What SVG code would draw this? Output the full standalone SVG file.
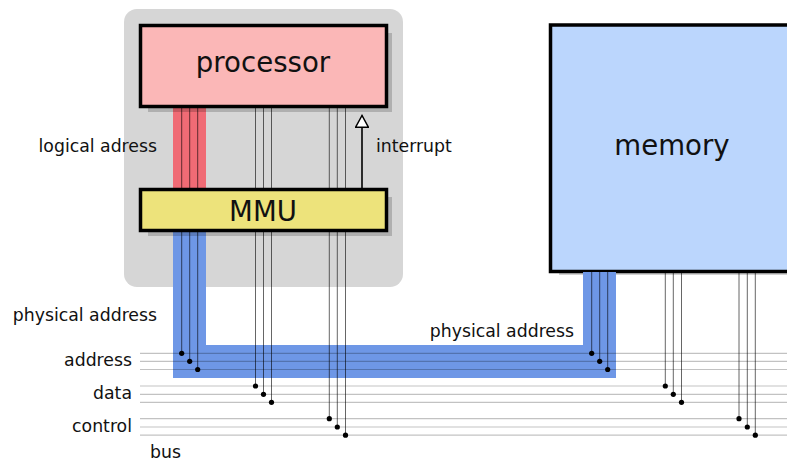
<svg xmlns="http://www.w3.org/2000/svg" width="787" height="463" viewBox="0 0 787 463">
  <style>
    .lbl { font-family: "DejaVu Sans", sans-serif; font-size: 17.3px; fill: #111; }
    .big { font-family: "DejaVu Sans", sans-serif; font-size: 27.6px; fill: #111; text-anchor: middle; }
    .box { stroke: #000; stroke-width: 3.5; }
    .shadow { fill: #000; fill-opacity: 0.18; }
    .wire { stroke: #000; stroke-opacity: 0.6; stroke-width: 1; fill: none; }
    .busline { stroke: #000; stroke-opacity: 0.24; stroke-width: 1.2; fill: none; }
    .dot { fill: #000; }
  </style>
  <defs>
    <marker id="hollow" viewBox="0 0 14 14" refX="12.5" refY="7" markerWidth="14" markerHeight="14" markerUnits="userSpaceOnUse" orient="auto">
      <path d="M12.5,7 L0.8,0.6 L0.8,13.4 Z" fill="#fff" stroke="#000" stroke-width="1.5" stroke-linejoin="miter"/>
    </marker>
  </defs>
  <rect width="787" height="463" fill="#fff"/>

  <!-- CPU package background -->
  <rect id="cpu-package" x="124" y="9" width="279" height="278" rx="13" fill="#d6d6d6"/>

  <!-- memory -->
  <g id="memory">
    <rect class="shadow" x="559" y="34" width="240" height="241"/>
    <rect class="box" x="550.5" y="25" width="260" height="246.5" fill="#bbd6fd"/>
    <text class="big" x="672" y="155">memory</text>
  </g>

  <!-- buses and wires -->
  <g id="connectors">
    <!-- logical address bundle -->
    <rect x="173" y="108" width="33" height="81" fill="#f06b75"/>
    <!-- physical address bundle -->
    <polygon points="173,231 206,231 206,345 583,345 583,272 616,272 616,378 173,378" fill="#6e97e6"/>

    <!-- system bus lines -->
    <g class="busline">
      <line x1="140" y1="353.3" x2="787" y2="353.3"/>
      <line x1="140" y1="361.3" x2="787" y2="361.3"/>
      <line x1="140" y1="369.5" x2="787" y2="369.5"/>
      <line x1="140" y1="386" x2="787" y2="386"/>
      <line x1="140" y1="394.3" x2="787" y2="394.3"/>
      <line x1="140" y1="402.3" x2="787" y2="402.3"/>
      <line x1="140" y1="418.7" x2="787" y2="418.7"/>
      <line x1="140" y1="427" x2="787" y2="427"/>
      <line x1="140" y1="435.2" x2="787" y2="435.2"/>
    </g>

    <!-- processor side wires -->
    <g class="wire">
      <line x1="181.7" y1="108" x2="181.7" y2="353.3"/>
      <line x1="189.7" y1="108" x2="189.7" y2="361.3"/>
      <line x1="197.7" y1="108" x2="197.7" y2="369.5"/>
      <line x1="255.5" y1="108" x2="255.5" y2="386"/>
      <line x1="263.5" y1="108" x2="263.5" y2="394.3"/>
      <line x1="271.5" y1="108" x2="271.5" y2="402.3"/>
      <line x1="329.3" y1="108" x2="329.3" y2="418.7"/>
      <line x1="337.3" y1="108" x2="337.3" y2="427"/>
      <line x1="345.5" y1="108" x2="345.5" y2="435.2"/>
    </g>

    <!-- memory side wires -->
    <g class="wire">
      <line x1="591.7" y1="272" x2="591.7" y2="353.3"/>
      <line x1="599.7" y1="272" x2="599.7" y2="361.3"/>
      <line x1="607.7" y1="272" x2="607.7" y2="369.5"/>
      <line x1="665.3" y1="272" x2="665.3" y2="386"/>
      <line x1="673.3" y1="272" x2="673.3" y2="394.3"/>
      <line x1="681.5" y1="272" x2="681.5" y2="402.3"/>
      <line x1="739" y1="272" x2="739" y2="418.7"/>
      <line x1="747.3" y1="272" x2="747.3" y2="427"/>
      <line x1="755.3" y1="272" x2="755.3" y2="435.2"/>
    </g>

    <!-- bus taps -->
    <g class="dot">
      <circle cx="181.7" cy="353.3" r="2.6"/>
      <circle cx="189.7" cy="361.3" r="2.6"/>
      <circle cx="197.7" cy="369.5" r="2.6"/>
      <circle cx="255.5" cy="386" r="2.6"/>
      <circle cx="263.5" cy="394.3" r="2.6"/>
      <circle cx="271.5" cy="402.3" r="2.6"/>
      <circle cx="329.3" cy="418.7" r="2.6"/>
      <circle cx="337.3" cy="427" r="2.6"/>
      <circle cx="345.5" cy="435.2" r="2.6"/>
      <circle cx="591.7" cy="353.3" r="2.6"/>
      <circle cx="599.7" cy="361.3" r="2.6"/>
      <circle cx="607.7" cy="369.5" r="2.6"/>
      <circle cx="665.3" cy="386" r="2.6"/>
      <circle cx="673.3" cy="394.3" r="2.6"/>
      <circle cx="681.5" cy="402.3" r="2.6"/>
      <circle cx="739" cy="418.7" r="2.6"/>
      <circle cx="747.3" cy="427" r="2.6"/>
      <circle cx="755.3" cy="435.2" r="2.6"/>
    </g>

    <!-- interrupt line -->
    <line x1="362" y1="188" x2="362" y2="115.5" stroke="#000" stroke-width="1.6" marker-end="url(#hollow)"/>
  </g>

  <!-- processor -->
  <g id="processor">
    <rect class="shadow" x="148" y="33" width="244" height="79"/>
    <rect class="box" x="140.5" y="25.5" width="246" height="81" fill="#fbb7b7"/>
    <text class="big" x="263" y="72">processor</text>
  </g>

  <!-- MMU -->
  <g id="mmu">
    <rect class="shadow" x="148" y="197" width="244" height="39"/>
    <rect class="box" x="140.5" y="189.5" width="246" height="41" fill="#ede37b"/>
    <text class="big" x="263" y="221">MMU</text>
  </g>

  <!-- labels -->
  <g id="labels">
    <text class="lbl" x="157" y="152" text-anchor="end">logical adress</text>
    <text class="lbl" x="376" y="152">interrupt</text>
    <text class="lbl" x="157" y="321" text-anchor="end">physical address</text>
    <text class="lbl" x="574" y="337" text-anchor="end">physical address</text>
    <text class="lbl" x="132" y="366" text-anchor="end">address</text>
    <text class="lbl" x="132" y="399" text-anchor="end">data</text>
    <text class="lbl" x="132" y="432" text-anchor="end">control</text>
    <text class="lbl" x="150" y="458">bus</text>
  </g>
</svg>
